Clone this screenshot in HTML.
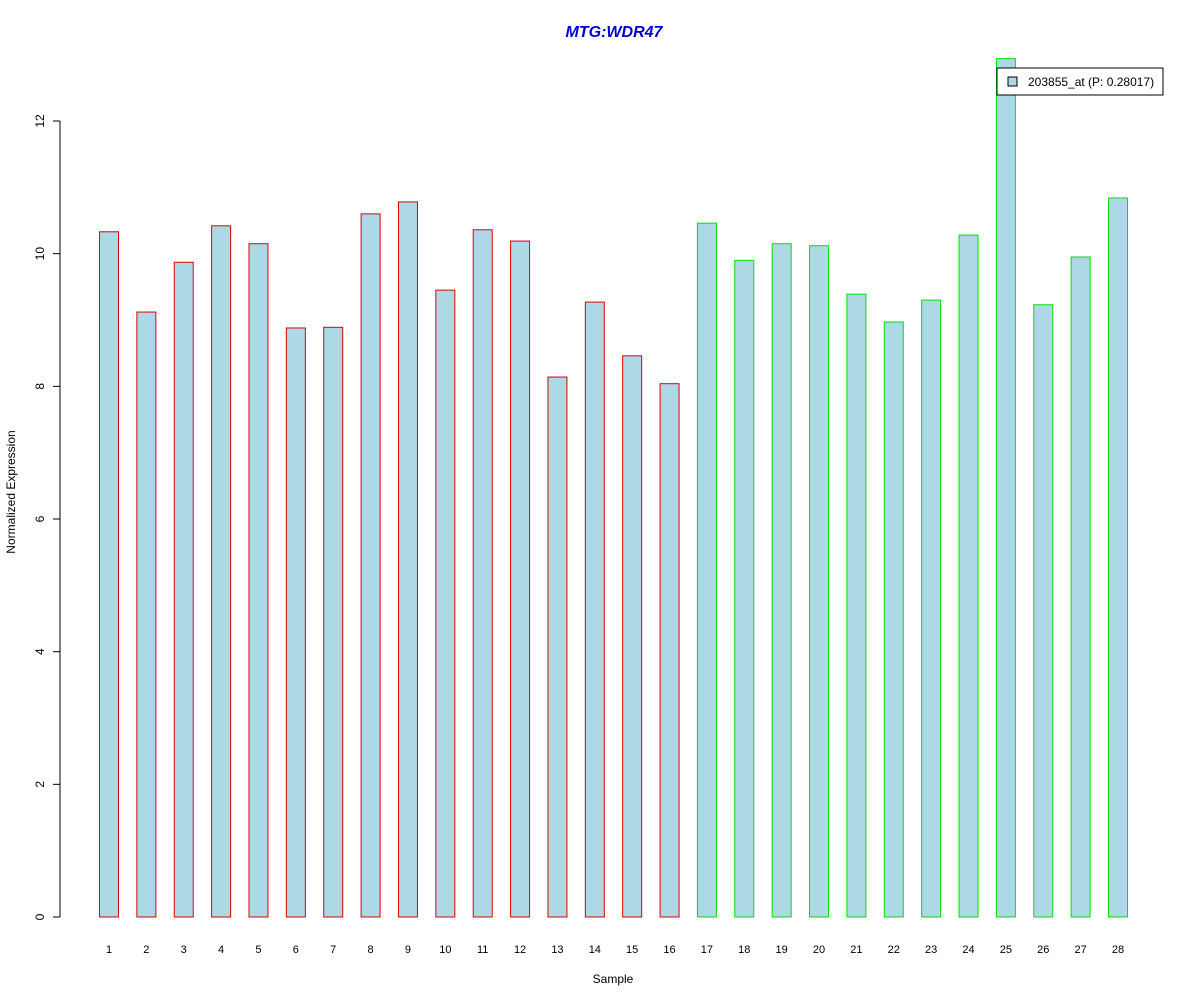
<!DOCTYPE html>
<html><head><meta charset="utf-8"><style>body{margin:0;background:#fff}svg{display:block;font-family:"Liberation Sans",Arial,sans-serif}</style></head>
<body>
<svg id="chart" width="1200" height="1000">
<text x="614" y="37" text-anchor="middle" font-size="16" font-weight="bold" font-style="italic" fill="#0000cc">MTG:WDR47</text>
<text x="613" y="983" text-anchor="middle" font-size="12">Sample</text>
<text transform="translate(15,492) rotate(-90)" text-anchor="middle" font-size="12">Normalized Expression</text>
<g id="yaxis"></g>
<g id="bars"></g>
<g id="xlabels"></g>
<g>
<rect x="997" y="68" width="166" height="27" fill="#fff" stroke="#000"/>
<rect x="1008" y="77" width="9" height="9" fill="#add8e6" stroke="#000"/>
<text x="1028" y="86" font-size="12">203855_at (P: 0.28017)</text>
</g>
</svg>
<script>
const categories=["1","2","3","4","5","6","7","8","9","10","11","12","13","14","15","16","17","18","19","20","21","22","23","24","25","26","27","28"];
const values=[10.33,9.12,9.87,10.42,10.15,8.88,8.89,10.60,10.78,9.45,10.36,10.19,8.14,9.27,8.46,8.04,10.46,9.90,10.15,10.12,9.39,8.97,9.30,10.28,12.94,9.23,9.95,10.84];
const groups=["a","a","a","a","a","a","a","a","a","a","a","a","a","a","a","a","b","b","b","b","b","b","b","b","b","b","b","b"];
const yTicks=[0,2,4,6,8,10,12];
const NS="http://www.w3.org/2000/svg";
const y=v=>917-v*(917-121)/12;
const x=i=>109+i*(1118-109)/(categories.length-1);
function mk(tag,attrs,parent){const e=document.createElementNS(NS,tag);for(const k in attrs)e.setAttribute(k,attrs[k]);parent.appendChild(e);return e;}
const ya=document.getElementById('yaxis');
mk('line',{x1:60,x2:60,y1:y(yTicks[yTicks.length-1]),y2:y(yTicks[0]),stroke:'#000'},ya);
yTicks.forEach(t=>{
 const l=mk('line',{x1:53,x2:60,y1:y(t),y2:y(t),stroke:'#000'},ya);
 
 
 const tx=mk('text',{transform:`translate(44,${y(t)}) rotate(-90)`,'text-anchor':'middle','font-size':12},ya);
 tx.textContent=t;
 
 
});
const bg=document.getElementById('bars'),xl=document.getElementById('xlabels');
values.forEach((v,i)=>{
 const r=mk('rect',{x:x(i)-9.5,y:y(v),width:19,height:y(0)-y(v),fill:'#add8e6',stroke:groups[i]==='a'?'#e00000':'#00e000'},bg);
 
 
 const t=mk('text',{x:x(i),y:953,'text-anchor':'middle','font-size':11},xl);
 t.textContent=categories[i];
 
 
});
</script>
</body></html>
